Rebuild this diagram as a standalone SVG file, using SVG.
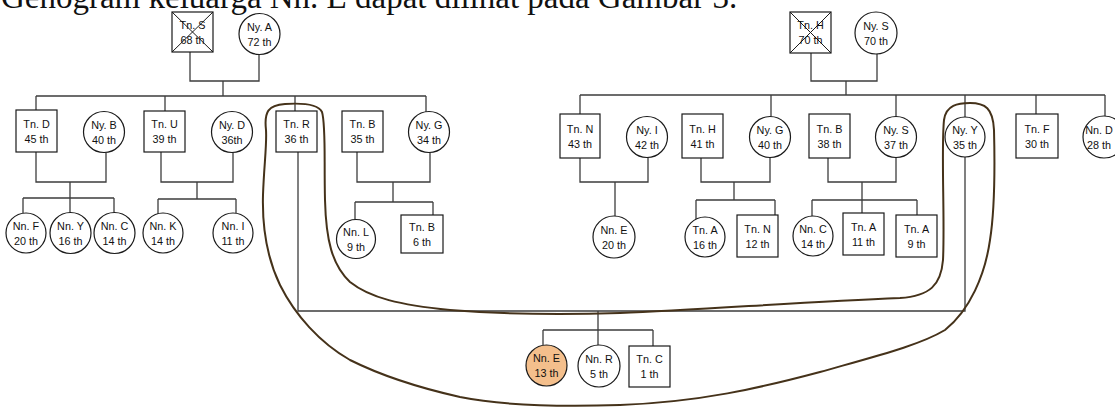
<svg xmlns="http://www.w3.org/2000/svg" width="1115" height="407" viewBox="0 0 1115 407">
<style>
.bg{fill:#ffffff}
.title{font-family:"Liberation Serif","Times New Roman",serif;font-size:33px;fill:#111}
.sq{fill:#ffffff;stroke:#1a1a1a;stroke-width:1.2}
.ci{fill:#ffffff;stroke:#1a1a1a;stroke-width:1.2}
.idx{fill:#F4BF8C}
.x{stroke:#1a1a1a;stroke-width:1}
.t{font-family:"Liberation Sans",Arial,sans-serif;font-size:10.8px;fill:#111;text-anchor:middle}
.ln{fill:none;stroke:#3d3d3d;stroke-width:1.3}
.hh{fill:none;stroke:#45321a;stroke-width:2}
</style>
<rect class="bg" x="0" y="0" width="1115" height="407"/>
<text class="title" x="1" y="8">Genogram keluarga Nn. E dapat dilihat pada Gambar 3.</text>

<g id="connectors">
<path class="ln" d="M190,52 V81 H259 V54.5 M223,81 V96"/>
<path class="ln" d="M36,96 H426 M36,96 V110 M165,96 V111 M295,96 V111 M426,96 V112"/>
<path class="ln" d="M36,152 V182 H106 V152.5 M70,182 V198 M23,198 H114 M23,198 V213.5 M70,198 V212.5 M114,198 V212.5"/>
<path class="ln" d="M161,152 V182 H233 V152.5 M197,182 V199 M158,199 H236 M158,199 V214 M236,199 V213.5"/>
<path class="ln" d="M357,152 V182 H430 V152.5 M393,182 V202 M355,202 H433 M355,202 V219.5 M433,202 V215"/>
<path class="ln" d="M298,152 V311 H965 V157 M598,311 V330 M543,330 H653 M543,330 V345.5 M598,330 V345 M653,330 V346"/>
<path class="ln" d="M811,53 V81 H877 V54 M846,81 V95"/>
<path class="ln" d="M580,95 H1105 M580,95 V114 M771,95 V116.5 M896,95 V116.5 M965,95 V117 M1036,95 V114 M1105,95 V116"/>
<path class="ln" d="M580,158 V182 H648 V157.5 M615,182 V216"/>
<path class="ln" d="M701,158 V182 H770 V157.5 M734,182 V200 M696,200 H775 M696,200 V219 M775,200 V215"/>
<path class="ln" d="M828,158 V182 H896 V157.5 M862,182 V200 M812,200 H917 M812,200 V216 M862,200 V213 M917,200 V215"/>
<path class="hh" d="M266,130 C264,112 268,105 285,104 C300,103 318,104 322,112 C326,125 324,160 325,200 C326,240 332,265 350,282 C370,298 400,305 450,310 C500,314 560,315 620,313 C700,310 800,302 900,298 C930,296 941,285 943,260 C945,220 941,150 944,120 C946,105 958,103 970,103 C985,103 993,108 994,130 C995,170 994,215 990,240 C985,275 970,310 945,330 C920,345 880,355 820,372 C760,388 700,402 620,405 C560,407 500,405 460,397 C420,388 380,375 350,360 C320,343 295,315 280,285 C267,258 262,230 263,195 C264,165 267,145 266,130 Z"/>
</g>

<g id="tnS"><rect class="sq" x="172" y="12" width="41" height="40"/><line class="x" x1="172" y1="12" x2="213" y2="52"/><line class="x" x1="213" y1="12" x2="172" y2="52"/><text class="t" x="192.5" y="29">Tn. S</text><text class="t" x="192.5" y="44">68 th</text></g>
<g id="nyA"><circle class="ci" cx="259.5" cy="34" r="20.5"/><text class="t" x="259.5" y="31">Ny. A</text><text class="t" x="259.5" y="46">72 th</text></g>

<g id="tnD"><rect class="sq" x="16" y="110" width="41" height="42"/><text class="t" x="36.5" y="128">Tn. D</text><text class="t" x="36.5" y="143">45 th</text></g>
<g id="nyB"><circle class="ci" cx="104" cy="132" r="20.5"/><text class="t" x="104" y="129">Ny. B</text><text class="t" x="104" y="144">40 th</text></g>
<g id="tnU"><rect class="sq" x="144" y="111" width="41" height="41"/><text class="t" x="164.5" y="128">Tn. U</text><text class="t" x="164.5" y="143">39 th</text></g>
<g id="nyD"><circle class="ci" cx="232" cy="132" r="20.5"/><text class="t" x="232" y="129">Ny. D</text><text class="t" x="232" y="144">36th</text></g>
<g id="tnR"><rect class="sq" x="276" y="111" width="41" height="41"/><text class="t" x="296.5" y="128">Tn. R</text><text class="t" x="296.5" y="143">36 th</text></g>
<g id="tnB"><rect class="sq" x="342" y="111" width="41" height="41"/><text class="t" x="362.5" y="128">Tn. B</text><text class="t" x="362.5" y="143">35 th</text></g>
<g id="nyG"><circle class="ci" cx="429" cy="132" r="20.5"/><text class="t" x="429" y="129">Ny. G</text><text class="t" x="429" y="144">34 th</text></g>

<g id="nnF"><circle class="ci" cx="26" cy="233" r="20"/><text class="t" x="26" y="230">Nn. F</text><text class="t" x="26" y="245">20 th</text></g>
<g id="nnY"><circle class="ci" cx="70.5" cy="233" r="20.5"/><text class="t" x="70.5" y="230">Nn. Y</text><text class="t" x="70.5" y="245">16 th</text></g>
<g id="nnC"><circle class="ci" cx="114.5" cy="233" r="20.5"/><text class="t" x="114.5" y="230">Nn. C</text><text class="t" x="114.5" y="245">14 th</text></g>
<g id="nnK"><circle class="ci" cx="163" cy="233" r="20"/><text class="t" x="163" y="230">Nn. K</text><text class="t" x="163" y="245">14 th</text></g>
<g id="nnI"><circle class="ci" cx="233" cy="233" r="20"/><text class="t" x="233" y="230">Nn. I</text><text class="t" x="233" y="245">11 th</text></g>
<g id="nnL"><circle class="ci" cx="356" cy="239" r="19.5"/><text class="t" x="356" y="236">Nn. L</text><text class="t" x="356" y="251">9 th</text></g>
<g id="tnB2"><rect class="sq" x="401" y="215" width="42" height="38"/><text class="t" x="422" y="231">Tn. B</text><text class="t" x="422" y="246">6 th</text></g>

<g id="tnH"><rect class="sq" x="790" y="12" width="41" height="41"/><line class="x" x1="790" y1="12" x2="831" y2="53"/><line class="x" x1="831" y1="12" x2="790" y2="53"/><text class="t" x="810.5" y="29">Tn. H</text><text class="t" x="810.5" y="44">70 th</text></g>
<g id="nyS"><circle class="ci" cx="876" cy="33" r="21"/><text class="t" x="876" y="30">Ny. S</text><text class="t" x="876" y="45">70 th</text></g>

<g id="tnN"><rect class="sq" x="560" y="114" width="40" height="44"/><text class="t" x="580" y="133">Tn. N</text><text class="t" x="580" y="148">43 th</text></g>
<g id="nyI"><circle class="ci" cx="647" cy="137" r="20.5"/><text class="t" x="647" y="134">Ny. I</text><text class="t" x="647" y="149">42 th</text></g>
<g id="tnH2"><rect class="sq" x="682" y="114" width="41" height="44"/><text class="t" x="702.5" y="133">Tn. H</text><text class="t" x="702.5" y="148">41 th</text></g>
<g id="nyG2"><circle class="ci" cx="770" cy="137" r="20.5"/><text class="t" x="770" y="134">Ny. G</text><text class="t" x="770" y="149">40 th</text></g>
<g id="tnB3"><rect class="sq" x="809" y="114" width="41" height="44"/><text class="t" x="829.5" y="133">Tn. B</text><text class="t" x="829.5" y="148">38 th</text></g>
<g id="nyS2"><circle class="ci" cx="896" cy="137" r="20.5"/><text class="t" x="896" y="134">Ny. S</text><text class="t" x="896" y="149">37 th</text></g>
<g id="nyY"><circle class="ci" cx="965" cy="137" r="20"/><text class="t" x="965" y="134">Ny. Y</text><text class="t" x="965" y="149">35 th</text></g>
<g id="tnF"><rect class="sq" x="1016" y="114" width="42" height="44"/><text class="t" x="1037" y="133">Tn. F</text><text class="t" x="1037" y="148">30 th</text></g>
<g id="nnD"><circle class="ci" cx="1104" cy="137" r="21"/><text class="t" x="1099" y="134">Nn. D</text><text class="t" x="1099" y="149">28 th</text></g>

<g id="nnE2"><circle class="ci" cx="614" cy="237" r="21"/><text class="t" x="614" y="234">Nn. E</text><text class="t" x="614" y="249">20 th</text></g>
<g id="tnA1"><circle class="ci" cx="705" cy="237" r="20"/><text class="t" x="705" y="234">Tn. A</text><text class="t" x="705" y="249">16 th</text></g>
<g id="tnN2"><rect class="sq" x="737" y="215" width="41" height="42"/><text class="t" x="757.5" y="233">Tn. N</text><text class="t" x="757.5" y="248">12 th</text></g>
<g id="nnC2"><circle class="ci" cx="813" cy="236" r="20"/><text class="t" x="813" y="233">Nn. C</text><text class="t" x="813" y="248">14 th</text></g>
<g id="tnA2"><rect class="sq" x="843" y="213" width="41" height="42"/><text class="t" x="863.5" y="231">Tn. A</text><text class="t" x="863.5" y="246">11 th</text></g>
<g id="tnA3"><rect class="sq" x="896" y="215" width="41" height="42"/><text class="t" x="916.5" y="233">Tn. A</text><text class="t" x="916.5" y="248">9 th</text></g>

<g id="nnE"><circle class="ci idx" cx="546.5" cy="365.5" r="20.5"/><text class="t" x="546.5" y="362">Nn. E</text><text class="t" x="546.5" y="377">13 th</text></g>
<g id="nnR"><circle class="ci" cx="599" cy="366" r="21"/><text class="t" x="599" y="363">Nn. R</text><text class="t" x="599" y="378">5 th</text></g>
<g id="tnC"><rect class="sq" x="629" y="346" width="41" height="41"/><text class="t" x="649.5" y="363">Tn. C</text><text class="t" x="649.5" y="378">1 th</text></g>
</svg>
